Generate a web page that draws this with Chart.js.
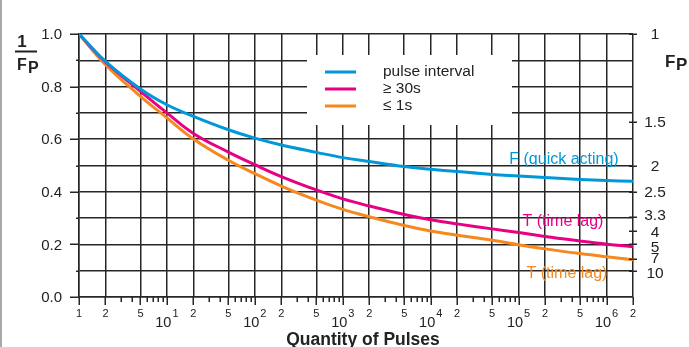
<!DOCTYPE html>
<html>
<head>
<meta charset="utf-8">
<script src="https://cdn.jsdelivr.net/npm/chart.js@4.4.1/dist/chart.umd.min.js"></script>
<style>
    html, body { margin: 0; padding: 0; background: #fff; }
    #wrap { width: 689px; height: 347px; }
    canvas { display: block; }
</style>
</head>
<body>
<div id="wrap"><canvas id="pulseChart" width="689" height="347"></canvas></div>
<script>
// Valeurs (1/FP en fonction du nombre d'impulsions)
const pulses = [1, 2, 5, 10, 20, 50, 100, 200, 500, 1e3, 2e3, 5e3, 1e4, 2e4, 5e4, 1e5, 2e5, 5e5, 1e6, 2e6];
const quickActing = [1.0, 0.896, 0.791, 0.731, 0.687, 0.636, 0.604, 0.578, 0.550, 0.530, 0.515, 0.496, 0.486, 0.477, 0.466, 0.460, 0.454, 0.447, 0.443, 0.440];
const timeLagSlow = [1.0, 0.894, 0.782, 0.700, 0.622, 0.551, 0.503, 0.458, 0.407, 0.373, 0.346, 0.314, 0.294, 0.278, 0.259, 0.245, 0.230, 0.213, 0.201, 0.191];
const timeLagFast = [1.0, 0.883, 0.763, 0.681, 0.601, 0.520, 0.469, 0.422, 0.368, 0.333, 0.305, 0.272, 0.251, 0.235, 0.216, 0.199, 0.183, 0.165, 0.153, 0.142];

const curveLabels = ['F (quick acting)', 'T (time lag)', 'T (time lag)'];
const legendLabels = ['pulse interval', '\u2265 30s', '\u2264 1s'];
const yTicks = [0, 0.1, 0.2, 0.3, 0.4, 0.5, 0.6, 0.7, 0.8, 0.9, 1.0];
const fpTicks = [1, 1.5, 2, 2.5, 3.3, 4, 5, 7, 10];
const decades = [0, 1, 2, 3, 4, 5, 6];

const FONT = "'Liberation Sans', Arial, Helvetica, sans-serif";
const GRID = '#262626';
const BLUE = 'rgb(0, 152, 216)';
const PINK = 'rgb(232, 0, 132)';
const ORANGE = 'rgb(246, 136, 30)';

// lignes verticales de la grille : 1, 2, 5 par decade
const xGrid = [];
decades.forEach(d => {
    [1, 2, 5].forEach(m => {
        const v = m * Math.pow(10, d);
        if (v <= 2e6) xGrid.push(v);
    });
});

function toPoints(values) {
    return pulses.map((p, i) => ({ x: p, y: values[i] }));
}

function line(ctx, x1, y1, x2, y2) {
    ctx.beginPath();
    ctx.moveTo(x1, y1);
    ctx.lineTo(x2, y2);
    ctx.stroke();
}

// petits decalages des etiquettes de droite pour eviter le chevauchement
const fpNudge = { 3.3: -3, 5: 2, 7: -2, 10: 2 };

const decor = {
    id: 'decor',
    beforeDraw(chart) {
        const ctx = chart.ctx;
        ctx.save();
        ctx.fillStyle = '#fff';
        ctx.fillRect(0, 0, chart.width, chart.height);
        ctx.strokeStyle = '#a8a8a8';
        ctx.lineWidth = 2;
        line(ctx, 1, 0, 1, chart.height);
        ctx.restore();
    },
    afterDraw(chart) {
        const ctx = chart.ctx;
        const x = chart.scales.x;
        const y = chart.scales.y;
        const area = chart.chartArea;
        ctx.save();
        ctx.strokeStyle = GRID;
        ctx.lineWidth = 1.5;

        // graduations gauche
        yTicks.forEach((v, i) => {
            const py = Math.round(y.getPixelForValue(v)) + 0.25;
            line(ctx, area.left - (i % 2 === 0 ? 9 : 3), py, area.left, py);
        });

        // graduations bas
        decades.forEach(d => {
            for (let m = 1; m <= 9; m++) {
                const v = m * Math.pow(10, d);
                if (v > 2e6) break;
                const px = Math.round(x.getPixelForValue(v)) + 0.25;
                const len = (m === 1 || m === 2 || m === 5) ? 8 : 5;
                line(ctx, px, area.bottom, px, area.bottom + len);
            }
        });

        // graduations droite (FP)
        fpTicks.forEach(fp => {
            const py = Math.round(y.getPixelForValue(1 / fp)) + 0.25;
            line(ctx, area.right - 4, py, area.right + 4, py);
        });

        ctx.fillStyle = '#222';
        ctx.textBaseline = 'middle';

        // etiquettes gauche
        ctx.font = '15px ' + FONT;
        ctx.textAlign = 'right';
        yTicks.forEach((v, i) => {
            if (i % 2 === 0) ctx.fillText(v.toFixed(1), area.left - 17, y.getPixelForValue(v) + 1);
        });

        // etiquettes droite
        ctx.font = '15.5px ' + FONT;
        ctx.textAlign = 'center';
        fpTicks.forEach(fp => {
            const py = y.getPixelForValue(1 / fp) + 1 + (fpNudge[fp] || 0);
            ctx.fillText(String(fp), area.right + 22, py);
        });

        // etiquettes bas
        decades.forEach(d => {
            const base = Math.pow(10, d);
            const px = x.getPixelForValue(base);
            if (d === 0) {
                ctx.font = '11px ' + FONT;
                ctx.textAlign = 'center';
                ctx.fillText('1', px, 314);
            } else {
                ctx.font = '14.5px ' + FONT;
                const w1 = ctx.measureText('10').width;
                ctx.font = '11px ' + FONT;
                const w2 = ctx.measureText(String(d)).width;
                const start = px - (w1 + w2 + 1) / 2;
                ctx.textAlign = 'left';
                ctx.font = '14.5px ' + FONT;
                ctx.fillText('10', start, 323);
                ctx.font = '11px ' + FONT;
                ctx.fillText(String(d), start + w1 + 1, 314);
            }
            ctx.font = '11px ' + FONT;
            ctx.textAlign = 'center';
            [2, 5].forEach(m => {
                const v = m * base;
                if (v <= 2e6) ctx.fillText(String(m), x.getPixelForValue(v), 314);
            });
        });

        // titres des axes
        ctx.font = 'bold 17.5px ' + FONT;
        ctx.textAlign = 'center';
        ctx.textBaseline = 'alphabetic';
        ctx.fillText('Quantity of Pulses', 363, 345);

        ctx.font = 'bold 17px ' + FONT;
        ctx.fillText('1', 22, 47);
        ctx.lineWidth = 2;
        ctx.strokeStyle = '#222';
        line(ctx, 15, 51.5, 37, 51.5);
        ctx.textAlign = 'left';
        ctx.font = 'bold 16px ' + FONT;
        ctx.fillText('F', 17, 70);
        ctx.fillText('P', 28, 73);
        ctx.font = 'bold 17px ' + FONT;
        ctx.fillText('F', 665, 67);
        ctx.fillText('P', 676, 70);

        // noms des courbes
        ctx.font = '16px ' + FONT;
        ctx.textAlign = 'center';
        ctx.textBaseline = 'middle';
        ctx.fillStyle = BLUE;
        ctx.fillText(curveLabels[0], 564, 160);
        ctx.fillStyle = PINK;
        ctx.fillText(curveLabels[1], 563, 222);
        ctx.fillStyle = ORANGE;
        ctx.fillText(curveLabels[2], 567, 274);

        // legende
        ctx.fillStyle = '#fff';
        ctx.fillRect(307, 55, 205, 70);
        const colors = [BLUE, PINK, ORANGE];
        const rows = [72, 89, 106];
        ctx.lineWidth = 3;
        ctx.font = '15.5px ' + FONT;
        ctx.textAlign = 'left';
        legendLabels.forEach((txt, i) => {
            ctx.strokeStyle = colors[i];
            line(ctx, 325, rows[i], 356, rows[i]);
            ctx.fillStyle = '#222';
            ctx.fillText(txt, 383, rows[i]);
        });

        ctx.restore();
    }
};

const pulseChart = new Chart(document.getElementById('pulseChart'), {
    type: 'line',
    data: {
        datasets: [
            { label: curveLabels[0], data: toPoints(quickActing), borderColor: BLUE },
            { label: curveLabels[1] + ' ' + legendLabels[1], data: toPoints(timeLagSlow), borderColor: PINK },
            { label: curveLabels[2] + ' ' + legendLabels[2], data: toPoints(timeLagFast), borderColor: ORANGE }
        ]
    },
    options: {
        responsive: false,
        animation: false,
        devicePixelRatio: 1,
        layout: { padding: { top: 34, right: 56, left: 0, bottom: 0 } },
        plugins: {
            legend: { display: false },
            tooltip: { enabled: false }
        },
        elements: {
            point: { radius: 0 },
            line: { borderWidth: 3, tension: 0.4, fill: false }
        },
        scales: {
            x: {
                type: 'logarithmic',
                min: 1,
                max: 2e6,
                afterBuildTicks: s => { s.ticks = xGrid.map(v => ({ value: v })); },
                afterFit: s => { s.height = 50; },
                ticks: { display: false },
                grid: { color: GRID, lineWidth: 1.5, drawTicks: false },
                border: { color: GRID, width: 1.5 }
            },
            y: {
                type: 'linear',
                min: 0,
                max: 1,
                afterBuildTicks: s => { s.ticks = yTicks.map(v => ({ value: v })); },
                afterFit: s => { s.width = 79; },
                ticks: { display: false },
                grid: { color: GRID, lineWidth: 1.5, drawTicks: false },
                border: { color: GRID, width: 1.5 }
            }
        }
    },
    plugins: [decor]
});
</script>
</body>
</html>
